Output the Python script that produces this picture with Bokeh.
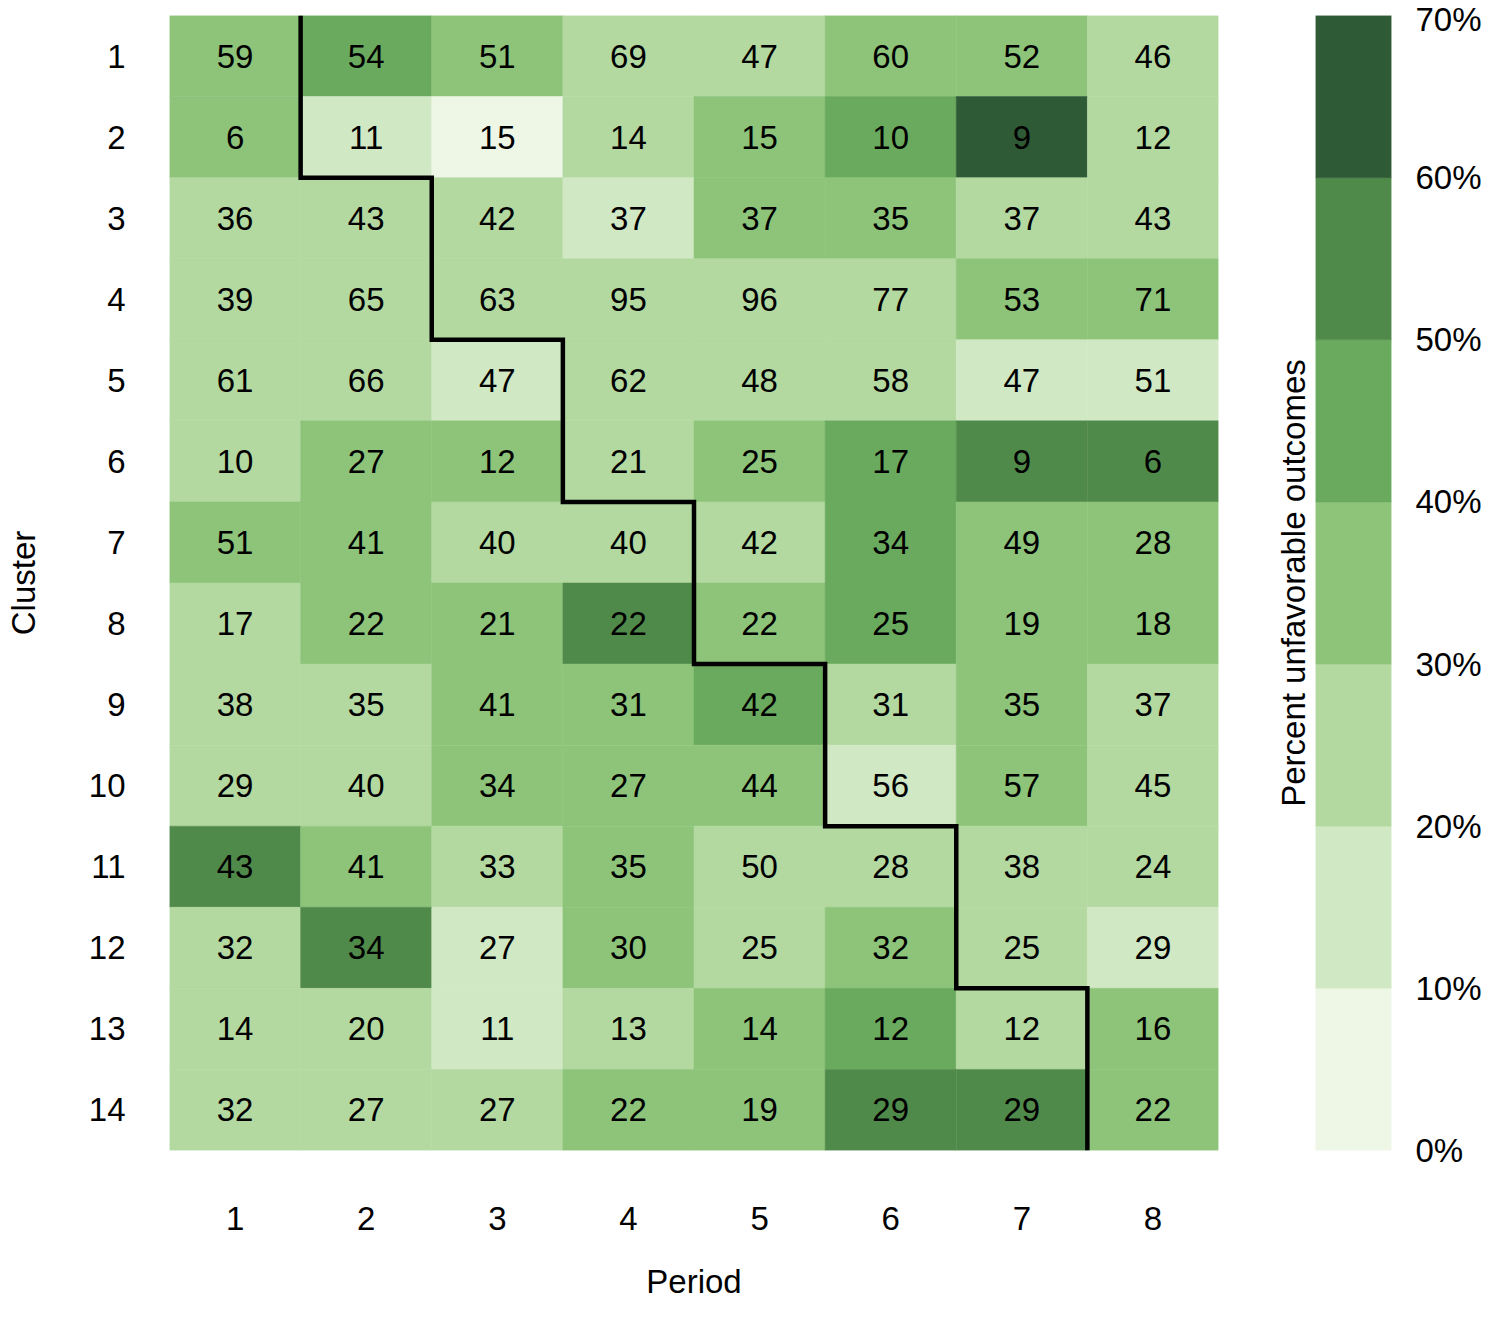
from bokeh.plotting import figure
from bokeh.models import Range1d, FixedTicker, LinearAxis, ColumnDataSource
from bokeh.layouts import row
from bokeh.transform import linear_cmap
from bokeh.core.properties import value
from bokeh.embed import file_html
from bokeh.resources import INLINE

# ---------------- data ----------------
periods = [1, 2, 3, 4, 5, 6, 7, 8]
clusters = [1, 2, 3, 4, 5, 6, 7, 8, 9, 10, 11, 12, 13, 14]

# number of cases per cluster (rows) and period (columns)
counts = [
    [59, 54, 51, 69, 47, 60, 52, 46],
    [6, 11, 15, 14, 15, 10, 9, 12],
    [36, 43, 42, 37, 37, 35, 37, 43],
    [39, 65, 63, 95, 96, 77, 53, 71],
    [61, 66, 47, 62, 48, 58, 47, 51],
    [10, 27, 12, 21, 25, 17, 9, 6],
    [51, 41, 40, 40, 42, 34, 49, 28],
    [17, 22, 21, 22, 22, 25, 19, 18],
    [38, 35, 41, 31, 42, 31, 35, 37],
    [29, 40, 34, 27, 44, 56, 57, 45],
    [43, 41, 33, 35, 50, 28, 38, 24],
    [32, 34, 27, 30, 25, 32, 25, 29],
    [14, 20, 11, 13, 14, 12, 12, 16],
    [32, 27, 27, 22, 19, 29, 29, 22],
]

# percent unfavorable outcomes (estimated from the colour bins)
percents = [
    [33.9, 44.4, 35.3, 24.6, 25.5, 35.0, 32.7, 26.1],
    [33.3, 18.2, 6.7, 28.6, 33.3, 45.0, 66.7, 25.0],
    [27.8, 25.6, 28.6, 16.2, 32.4, 34.3, 24.3, 23.3],
    [25.6, 27.7, 23.8, 26.3, 24.0, 27.3, 34.0, 31.0],
    [23.0, 24.2, 14.9, 25.8, 22.9, 25.9, 17.0, 15.7],
    [25.0, 33.3, 33.3, 23.8, 36.0, 41.2, 55.6, 53.0],
    [35.3, 36.6, 27.5, 25.0, 26.2, 44.1, 34.7, 35.7],
    [23.5, 31.8, 33.3, 54.5, 36.4, 44.0, 36.8, 33.3],
    [23.7, 25.7, 34.1, 35.5, 45.2, 25.8, 37.1, 27.0],
    [27.6, 25.0, 35.3, 33.3, 31.8, 16.1, 35.1, 26.7],
    [53.5, 36.6, 24.2, 34.3, 26.0, 25.0, 26.3, 29.2],
    [28.1, 52.9, 14.8, 33.3, 24.0, 37.5, 28.0, 17.2],
    [28.6, 25.0, 18.2, 23.1, 35.7, 41.7, 25.0, 37.5],
    [25.0, 29.6, 22.2, 36.4, 31.6, 51.7, 55.2, 31.8],
]

# last period before the staircase line, per cluster
boundary_period = [1, 1, 2, 2, 3, 3, 4, 4, 5, 5, 6, 6, 7, 7]

palette = ["#eef6e6", "#d0e8c3", "#b3d9a0", "#8dc47a", "#6aaa5e", "#508a4a", "#2f5a36"]
cbar_ticks = [0, 10, 20, 30, 40, 50, 60, 70]
cbar_labels = ["0%", "10%", "20%", "30%", "40%", "50%", "60%", "70%"]

FONT = "Liberation Sans"

# ---------------- heatmap ----------------
xs, ys, ns, ps = [], [], [], []
for i, c in enumerate(clusters):
    for j, per in enumerate(periods):
        xs.append(per)
        ys.append(c)
        ns.append(str(counts[i][j]))
        ps.append(percents[i][j])
src = ColumnDataSource(dict(x=xs, y=ys, n=ns, pct=ps))
cmap = linear_cmap("pct", palette, cbar_ticks[0], cbar_ticks[-1])

W1, H = 1238, 1303
TOP, BOTTOM = 15, 153
p = figure(width=W1, height=H, output_backend="svg", toolbar_location=None,
           x_range=Range1d(0.5, 8.5), y_range=Range1d(14.5, 0.5),
           min_border_left=169, min_border_right=20, min_border_top=TOP,
           min_border_bottom=BOTTOM)
p.outline_line_color = None
p.grid.visible = False
p.rect("x", "y", width=1, height=1, source=src, fill_color=cmap,
       line_color=cmap, line_width=0.5)
p.text("x", "y", text="n", source=src, text_align="center",
       text_baseline="middle", text_font=value(FONT),
       text_font_size="33px", text_color="black")

# staircase line
lx = [boundary_period[0] + 0.5]
ly = [0.5]
for i, b in enumerate(boundary_period):
    lx.append(b + 0.5)
    ly.append(clusters[i] + 0.5)
    if i + 1 < len(boundary_period) and boundary_period[i + 1] != b:
        lx.append(boundary_period[i + 1] + 0.5)
        ly.append(clusters[i] + 0.5)
p.line(lx, ly, line_color="black", line_width=4.5, line_join="miter")

for ax in (p.xaxis[0], p.yaxis[0]):
    ax.axis_line_color = None
    ax.major_tick_line_color = None
    ax.minor_tick_line_color = None
    ax.major_tick_out = 0
    ax.major_tick_in = 0
    ax.minor_tick_out = 0
    ax.minor_tick_in = 0
    ax.major_label_text_font = FONT
    ax.major_label_text_font_size = "33px"
    ax.major_label_text_color = "black"
    ax.axis_label_text_font = FONT
    ax.axis_label_text_font_size = "33px"
    ax.axis_label_text_font_style = "normal"
    ax.axis_label_text_color = "black"
p.xaxis.ticker = FixedTicker(ticks=periods)
p.yaxis.ticker = FixedTicker(ticks=clusters)
p.xaxis.axis_label = "Period"
p.yaxis.axis_label = "Cluster"
p.xaxis.major_label_standoff = 56
p.xaxis.axis_label_standoff = 30
p.yaxis.major_label_standoff = 44
p.yaxis.axis_label_standoff = 44

# ---------------- colour bar ----------------
W2 = 246
CB_LEFT, CB_W = 77, 79
cb_y = [(cbar_ticks[k] + cbar_ticks[k + 1]) / 2 for k in range(len(cbar_ticks) - 1)]
cb_src = ColumnDataSource(dict(y=cb_y, x=[0.5] * len(cb_y)))
cb = figure(width=W2, height=H, output_backend="svg", toolbar_location=None,
            x_range=Range1d(0, 1), y_range=Range1d(cbar_ticks[0], cbar_ticks[-1]),
            x_axis_type=None, y_axis_type=None,
            min_border_left=CB_LEFT, min_border_right=W2 - CB_LEFT - CB_W,
            min_border_top=TOP, min_border_bottom=BOTTOM)
cb.outline_line_color = None
cb.grid.visible = False
cb_map = linear_cmap("y", palette, cbar_ticks[0], cbar_ticks[-1])
cb.rect("x", "y", width=1, height=10, source=cb_src,
        fill_color=cb_map, line_color=cb_map, line_width=0.5)

rax = LinearAxis(ticker=FixedTicker(ticks=cbar_ticks),
                 major_label_overrides={t: l for t, l in zip(cbar_ticks, cbar_labels)})
rax.axis_line_color = None
rax.major_tick_line_color = None
rax.minor_tick_line_color = None
rax.major_tick_out = 0
rax.major_tick_in = 0
rax.minor_tick_out = 0
rax.minor_tick_in = 0
rax.major_label_text_font = FONT
rax.major_label_text_font_size = "33px"
rax.major_label_text_color = "black"
rax.major_label_standoff = 24
cb.add_layout(rax, "right")

lax = LinearAxis(ticker=FixedTicker(ticks=[]), axis_label="Percent unfavorable outcomes")
lax.axis_line_color = None
lax.major_tick_line_color = None
lax.minor_tick_line_color = None
lax.major_tick_out = 0
lax.major_tick_in = 0
lax.minor_tick_out = 0
lax.minor_tick_in = 0
lax.major_label_standoff = 0
lax.major_label_text_font_size = "0px"
lax.axis_label_text_font = FONT
lax.axis_label_text_font_size = "33px"
lax.axis_label_text_font_style = "normal"
lax.axis_label_text_color = "black"
lax.axis_label_standoff = 4
cb.add_layout(lax, "left")

layout = row(p, cb)
open("out.html", "w").write(file_html(layout, INLINE))
